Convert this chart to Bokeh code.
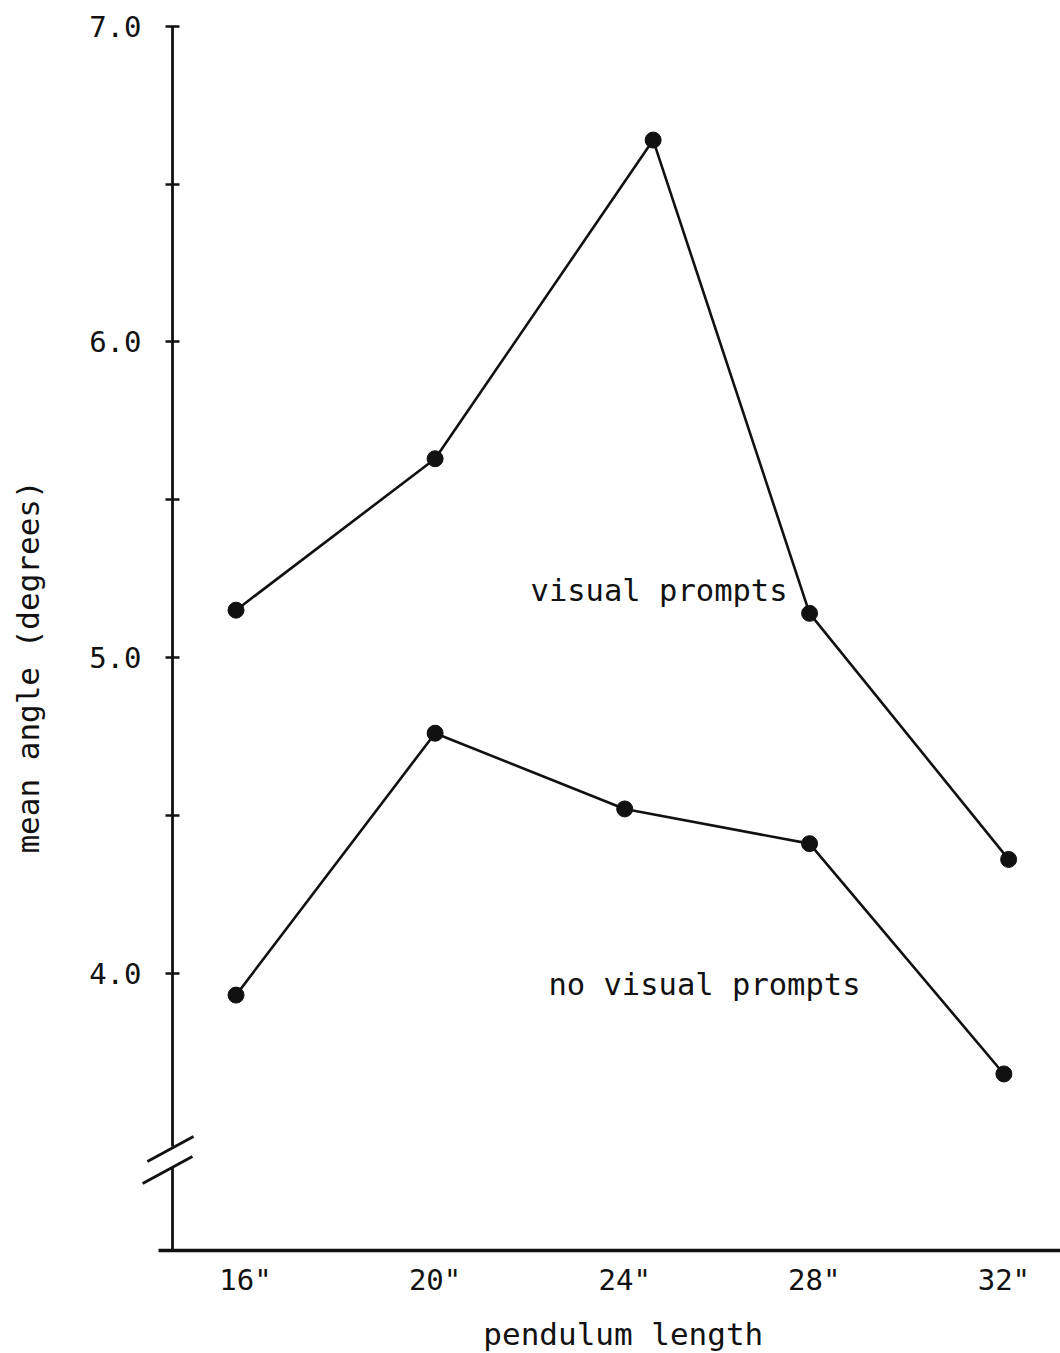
from math import pi

from bokeh.core.properties import value
from bokeh.embed import file_html
from bokeh.models import FixedTicker, Label, Range1d
from bokeh.plotting import figure
from bokeh.resources import INLINE

# Pendulum lengths (inches) and mean angle (degrees) for each condition
lengths_labels = ['16"', '20"', '24"', '28"', '32"']
tick_lengths = [16, 20, 24, 28, 32]

visual_x = [15.8, 20.0, 24.6, 27.9, 32.1]
visual_angle = [5.15, 5.63, 6.64, 5.14, 4.36]

novisual_x = [15.8, 20.0, 24.0, 27.9, 32.0]
novisual_angle = [3.93, 4.76, 4.52, 4.41, 3.68]

y_major = [4.0, 5.0, 6.0, 7.0]
y_minor = [4.5, 5.5, 6.5]

FONT = "DejaVu Sans Mono"
INK = "#111111"

# the frame covers the whole page; axes sit at fixed data locations inside it
X_START, X_END = 10.831, 33.194
Y_START, Y_END = 2.794, 7.0824
AXIS_X = 14.46          # vertical axis position
AXIS_Y = 3.1205         # baseline position
BASE_X0 = 14.165        # left end of the baseline
BREAK_LO, BREAK_HI = 3.384, 3.450   # gap in the vertical axis

p = figure(
    width=1060, height=1353,
    x_range=Range1d(X_START, X_END), y_range=Range1d(Y_START, Y_END),
    output_backend="svg", toolbar_location=None,
    min_border=0,
    background_fill_color="white", border_fill_color="white",
    outline_line_color=None,
)
p.grid.visible = False

# vertical axis: ticks and labels; its line is drawn below with a break
ya = p.yaxis[0]
ya.fixed_location = AXIS_X
ya.ticker = FixedTicker(ticks=y_major, minor_ticks=y_minor)
ya.major_label_overrides = {v: f"{v:.1f}" for v in y_major}
ya.axis_line_color = None
ya.major_tick_in = 7
ya.major_tick_out = 7
ya.minor_tick_in = 7
ya.minor_tick_out = 7
ya.major_tick_line_color = INK
ya.minor_tick_line_color = INK
ya.major_tick_line_width = 2.5
ya.minor_tick_line_width = 2.5
ya.major_label_standoff = 24
ya.major_label_text_font = FONT
ya.major_label_text_font_size = "29px"
ya.major_label_text_color = INK

# horizontal axis: labels only, baseline drawn separately
xa = p.xaxis[0]
xa.fixed_location = AXIS_Y
xa.ticker = FixedTicker(ticks=tick_lengths, minor_ticks=[])
xa.major_label_overrides = dict(zip(tick_lengths, lengths_labels))
xa.axis_line_color = None
xa.major_tick_in = 0
xa.major_tick_out = 0
xa.minor_tick_in = 0
xa.minor_tick_out = 0
xa.major_label_standoff = 13
xa.major_label_text_font = FONT
xa.major_label_text_font_size = "29px"
xa.major_label_text_color = INK

# baseline and vertical axis line with a scale break
p.segment(x0=[BASE_X0], y0=[AXIS_Y], x1=[X_END], y1=[AXIS_Y],
          line_color=INK, line_width=3.5)
p.segment(x0=[AXIS_X, AXIS_X], y0=[AXIS_Y, BREAK_HI],
          x1=[AXIS_X, AXIS_X], y1=[BREAK_LO, 7.0],
          line_color=INK, line_width=2.8)
p.segment(x0=[13.93, 13.83], y0=[3.4025, 3.3328],
          x1=[14.903, 14.88], y1=[3.4818, 3.4184],
          line_color=INK, line_width=2.8)

# the two series
for xs, ys in ((visual_x, visual_angle), (novisual_x, novisual_angle)):
    p.line(xs, ys, line_color=INK, line_width=2.6)
    p.scatter(xs, ys, size=16, marker="circle", fill_color=INK, line_color=INK)

# series labels
p.text(x=[22.013], y=[5.212], text=["visual prompts"],
       text_font=value(FONT), text_font_size="30.5px", text_color=INK,
       text_align="left", text_baseline="middle")
p.text(x=[22.39], y=[3.964], text=["no visual prompts"],
       text_font=value(FONT), text_font_size="30.5px", text_color=INK,
       text_align="left", text_baseline="middle")

# axis titles
p.add_layout(Label(x=23.97, y=2.857, text="pendulum length",
                   text_font=FONT, text_font_size="31px", text_color=INK,
                   text_align="center", text_baseline="middle"))
p.add_layout(Label(x=11.41, y=4.97, text="mean angle (degrees)", angle=pi / 2,
                   text_font=FONT, text_font_size="31px", text_color=INK,
                   text_align="center", text_baseline="middle"))

open("out.html", "w").write(file_html(p, INLINE))
